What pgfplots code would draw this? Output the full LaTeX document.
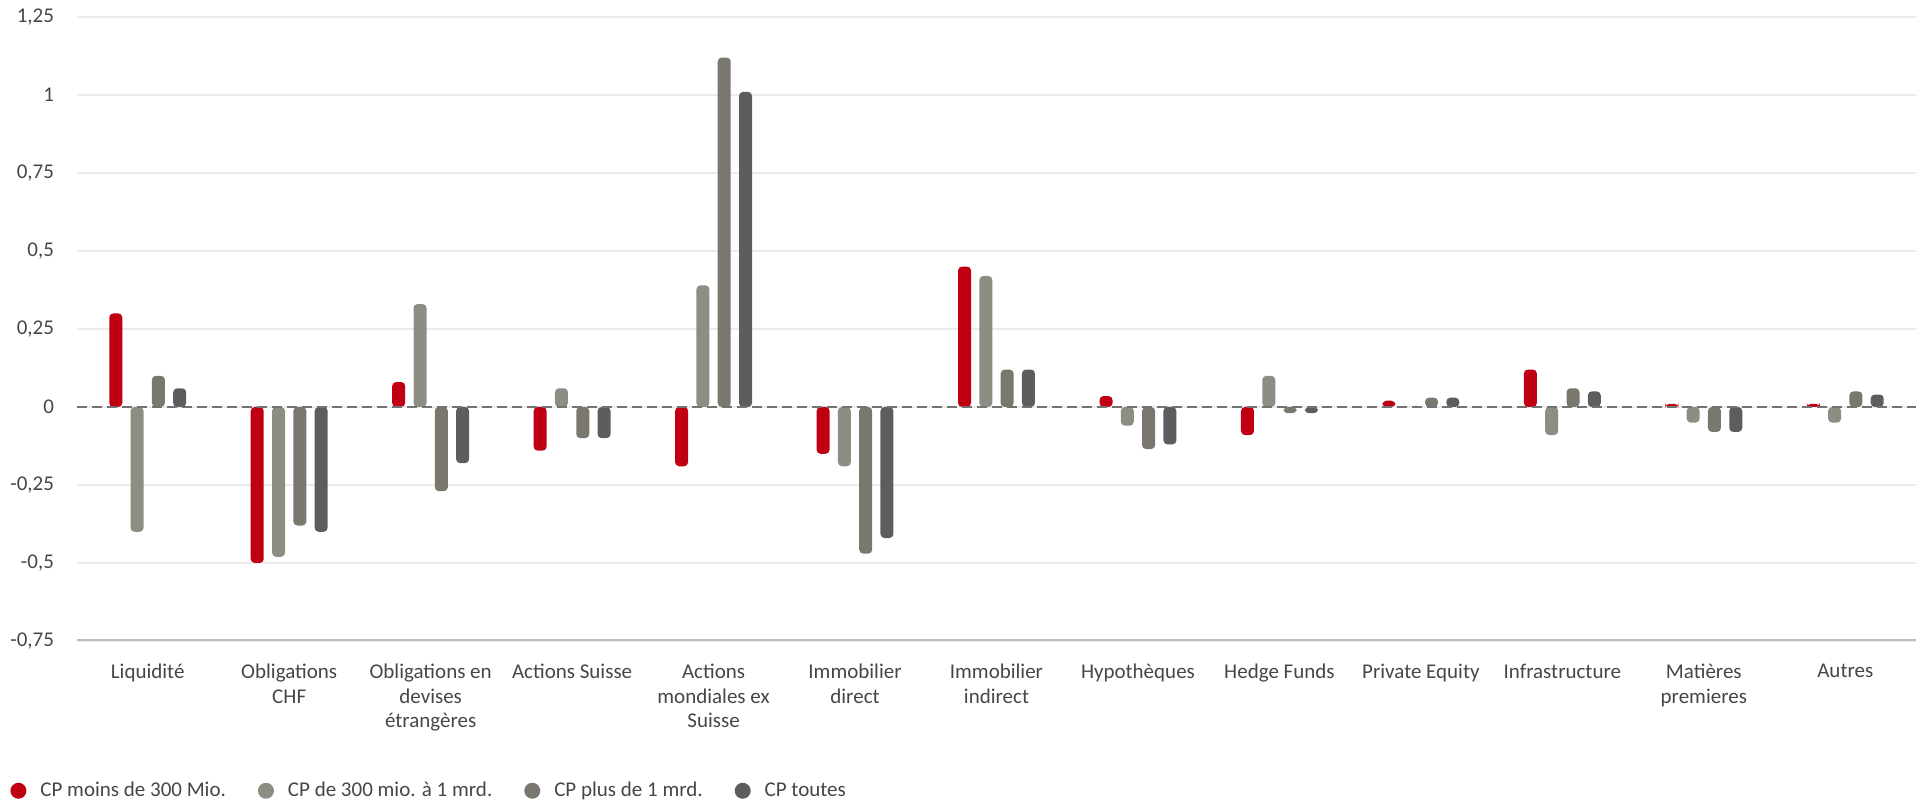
\documentclass[border=0pt]{standalone}
\usepackage{fontspec}
\setmainfont{Carlito}
\usepackage{pgfplots}
\pgfplotsset{compat=1.18}
\definecolor{cpsmall}{RGB}{192,0,18}
\definecolor{cpmid}{RGB}{141,141,131}
\definecolor{cpbig}{RGB}{122,119,111}
\definecolor{cpall}{RGB}{92,94,93}
\definecolor{gridc}{RGB}{236,236,236}
\definecolor{txt}{RGB}{70,70,70}

% cat, moins de 300 Mio., 300 mio. a 1 mrd., plus de 1 mrd., toutes
\pgfplotstableread{
x   a      b      c      d
0   0.30  -0.40   0.10   0.06
1  -0.50  -0.48  -0.38  -0.40
2   0.08   0.33  -0.27  -0.18
3  -0.14   0.06  -0.10  -0.10
4  -0.19   0.39   1.12   1.01
5  -0.15  -0.19  -0.47  -0.42
6   0.45   0.42   0.12   0.12
7   0.035 -0.06  -0.135 -0.12
8  -0.09   0.10  -0.02  -0.02
9   0.02   0.00   0.03   0.03
10  0.12  -0.09   0.06   0.05
11  0.01  -0.05  -0.08  -0.08
12  0.01  -0.05   0.05   0.04
}\datatable

\begin{document}
\begin{tikzpicture}
\begin{axis}[
    scale only axis,
    width=919.5pt, height=312pt,
    ybar=4.15pt, bar width=6.5pt,
    xmin=-0.5, xmax=12.5, ymin=-0.75, ymax=1.25,
    enlarge x limits=false,
    axis line style={draw=none},
    major tick length=0pt,
    ymajorgrids, grid style={gridc, line width=0.75pt},
    ytick={-0.75,-0.5,-0.25,0,0.25,0.5,0.75,1,1.25},
    yticklabels={{-0,75},{-0,5},{-0,25},{0},{0,25},{0,5},{0,75},{1},{1,25}},
    yticklabel style={font=\fontsize{10.5}{12}\selectfont, text=txt, xshift=-8pt},
    xtick={0,...,12},
    xticklabels={Liquidité, {Obligations\\CHF}, {Obligations en\\devises\\étrangères},
      Actions Suisse, {Actions\\mondiales ex\\Suisse}, {Immobilier\\direct},
      {Immobilier\\indirect}, Hypothèques, Hedge Funds, Private Equity,
      Infrastructure, {Matières\\premieres}, Autres},
    xticklabel style={align=center, font=\fontsize{10.5}{12.25}\selectfont, text=txt, anchor=north, yshift=-8pt},
    legend columns=4,
    legend style={at={(-0.0364,-0.240)}, anchor=west, draw=none, inner sep=0pt,
      font=\fontsize{10.5}{12}\selectfont, text=txt,
      /tikz/every odd column/.append style={column sep=5pt},
      /tikz/every even column/.append style={column sep=14pt}},
    legend image code/.code={\path[fill] (4pt,0pt) circle (4pt);},
    every axis plot/.append style={draw=none, rounded corners=2pt},
]
\addplot[fill=cpsmall] table[x=x, y=a] {\datatable};
\addlegendentry{CP moins de 300 Mio.}
\addplot[fill=cpmid] table[x=x, y=b] {\datatable};
\addlegendentry{CP de 300 mio. à 1 mrd.}
\addplot[fill=cpbig] table[x=x, y=c] {\datatable};
\addlegendentry{CP plus de 1 mrd.}
\addplot[fill=cpall] table[x=x, y=d] {\datatable};
\addlegendentry{CP toutes}

% zero line and bottom rule
\draw[color=black!55, line width=1pt, dash pattern=on 5pt off 2.5pt]
  (axis cs:-0.5,0) -- (axis cs:12.5,0);
\draw[color=black!26, line width=2pt] (axis cs:-0.5,-0.75) -- (axis cs:12.5,-0.75);
\coordinate (sw) at (rel axis cs:0,0);
\coordinate (ne) at (rel axis cs:1,1);
\end{axis}
\pgfresetboundingbox
\path ([xshift=-38.5pt,yshift=-82.5pt]sw) rectangle ([xshift=3.5pt,yshift=8.5pt]ne);
\end{tikzpicture}
\end{document}
